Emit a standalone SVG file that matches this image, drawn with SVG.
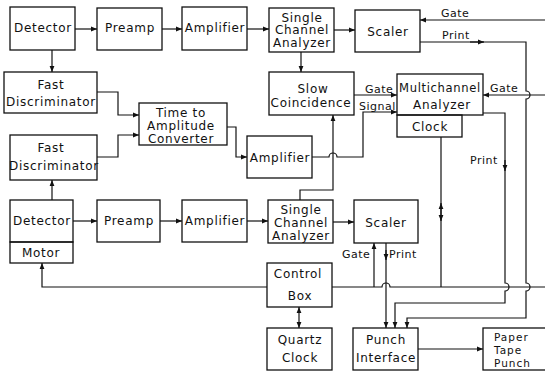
<svg xmlns="http://www.w3.org/2000/svg" width="545" height="371" viewBox="0 0 545 371">
<style>
.b{fill:none;stroke:#111;stroke-width:1.3}
.t{font-family:"DejaVu Sans",sans-serif;font-size:12px;text-anchor:middle;letter-spacing:0.7px;fill:#111}
.l{font-family:"DejaVu Sans",sans-serif;font-size:11px;letter-spacing:0.5px;fill:#111}
.p{font-family:"DejaVu Sans",sans-serif;font-size:10.5px;letter-spacing:1px;fill:#111}
.c{fill:none;stroke:#111;stroke-width:1.2}
</style>
<defs>
<marker id="a" viewBox="0 0 10 10" refX="10" refY="5" markerWidth="6" markerHeight="6" markerUnits="userSpaceOnUse" orient="auto-start-reverse">
<path d="M0,1 L10,5 L0,9 z" fill="#111"/>
</marker>
</defs>
<rect width="545" height="371" fill="#fff"/>

<g id="detector1"><rect class="b" x="10" y="7" width="65" height="43"/><text class="t" x="43" y="32">Detector</text></g>
<g id="preamp1"><rect class="b" x="97" y="8" width="65" height="42"/><text class="t" x="130" y="32">Preamp</text></g>
<g id="amplifier1"><rect class="b" x="182" y="7" width="65" height="43"/><text class="t" x="215" y="32">Amplifier</text></g>
<g id="sca1"><rect class="b" x="269" y="8" width="65" height="44"/><text class="t" x="302" y="21.5">Single</text><text class="t" x="302" y="34">Channel</text><text class="t" x="302" y="47">Analyzer</text></g>
<g id="scaler1"><rect class="b" x="355" y="10" width="65" height="42"/><text class="t" x="388" y="35.5">Scaler</text></g>
<g id="fastdisc1"><rect class="b" x="4" y="72" width="93" height="41"/><text class="t" x="51" y="89">Fast</text><text class="t" x="51" y="105.5">Discriminator</text></g>
<g id="tac"><rect class="b" x="139" y="103" width="88" height="42"/><text class="t" x="181" y="117">Time to</text><text class="t" x="181" y="130">Amplitude</text><text class="t" x="181" y="142.5">Converter</text></g>
<g id="slowcoinc"><rect class="b" x="269" y="72" width="85" height="43"/><text class="t" x="313" y="92.5">Slow</text><text class="t" x="311" y="107">Coincidence</text></g>
<g id="mca"><rect class="b" x="397" y="74" width="86" height="41"/><rect class="b" x="397" y="115" width="65" height="22"/><text class="t" x="440" y="92" textLength="82" lengthAdjust="spacingAndGlyphs">Multichannel</text><text class="t" x="442" y="109">Analyzer</text><text class="t" x="430" y="131">Clock</text></g>
<g id="fastdisc2"><rect class="b" x="10" y="135" width="87" height="45"/><text class="t" x="51" y="152">Fast</text><text class="t" x="54" y="169.5">Discriminator</text></g>
<g id="amplifier2"><rect class="b" x="247" y="136" width="65" height="42"/><text class="t" x="280" y="161.5">Amplifier</text></g>
<g id="detector2"><rect class="b" x="10" y="200" width="63" height="42"/><rect class="b" x="10" y="242" width="63" height="21"/><text class="t" x="42" y="224.5">Detector</text><text class="t" x="41" y="257">Motor</text></g>
<g id="preamp2"><rect class="b" x="97" y="200" width="63" height="42"/><text class="t" x="129" y="224.5">Preamp</text></g>
<g id="amplifier3"><rect class="b" x="182" y="200" width="65" height="42"/><text class="t" x="215" y="224.5">Amplifier</text></g>
<g id="sca2"><rect class="b" x="268" y="200" width="65" height="43"/><text class="t" x="301" y="213.5">Single</text><text class="t" x="301" y="227">Channel</text><text class="t" x="301" y="239.5">Analyzer</text></g>
<g id="scaler2"><rect class="b" x="354" y="200" width="64" height="43"/><text class="t" x="386" y="227">Scaler</text></g>
<g id="controlbox"><rect class="b" x="267" y="263" width="65" height="44"/><text class="t" x="298" y="277.5">Control</text><text class="t" x="300" y="299.5">Box</text></g>
<g id="quartzclock"><rect class="b" x="267" y="328" width="65" height="42"/><text class="t" x="300" y="343.5">Quartz</text><text class="t" x="300" y="361.5">Clock</text></g>
<g id="punchinterface"><rect class="b" x="353" y="328" width="65" height="42"/><text class="t" x="386" y="343.5">Punch</text><text class="t" x="386" y="361.5">Interface</text></g>
<g id="papertape"><rect class="b" x="483" y="328" width="80" height="42"/><text class="p" x="494" y="341">Paper</text><text class="p" x="494" y="354">Tape</text><text class="p" x="494" y="367">Punch</text></g>

<g id="connectors">
<path class="c" d="M75,29 H97" marker-end="url(#a)"/>
<path class="c" d="M162,29 H182" marker-end="url(#a)"/>
<path class="c" d="M247,29 H269" marker-end="url(#a)"/>
<path class="c" d="M334,30 H355" marker-end="url(#a)"/>
<path class="c" d="M73,221 H97" marker-end="url(#a)"/>
<path class="c" d="M160,221 H182" marker-end="url(#a)"/>
<path class="c" d="M247,221 H268" marker-end="url(#a)"/>
<path class="c" d="M333,222 H354" marker-end="url(#a)"/>
<path class="c" d="M52,50 V72" marker-end="url(#a)"/>
<path class="c" d="M301,52 V72" marker-end="url(#a)"/>
<path class="c" d="M97,92 H118 V115 H139" marker-end="url(#a)"/>
<path class="c" d="M97,157 H118 V135 H139" marker-end="url(#a)"/>
<path class="c" d="M52,200 V180" marker-end="url(#a)"/>
<path class="c" d="M227,127 H236 V157 H247" marker-end="url(#a)"/>
<path class="c" d="M312,157 H329 A4,4 0 0 1 337,157 H363 V112 H397" marker-end="url(#a)"/>
<path class="c" d="M300,200 V190 H333 V115" marker-end="url(#a)"/>
<path class="c" d="M354,95 H397" marker-end="url(#a)"/>
<path class="c" d="M545,20 H420" marker-end="url(#a)"/>
<path class="c" d="M420,42 H526 V91 A4,4 0 0 1 526,99 V283 A4,4 0 0 1 526,291 V318 H407 V328" marker-end="url(#a)"/>
<path class="c" d="M470,42 H484" marker-end="url(#a)"/>
<path class="c" d="M545,95 H483" marker-end="url(#a)"/>
<path class="c" d="M483,113 H505 V283 A4,4 0 0 1 505,291 V303 H395 V328" marker-end="url(#a)"/>
<path class="c" d="M505,160 V171" marker-end="url(#a)"/>
<path class="c" d="M441,137 V287"/>
<path class="c" d="M441,212 V203" marker-end="url(#a)"/>
<path class="c" d="M441,212 V221" marker-end="url(#a)"/>
<path class="c" d="M332,287 H382 A4,4 0 0 1 390,287 H545"/>
<path class="c" d="M267,287 H42 V263" marker-end="url(#a)"/>
<path class="c" d="M374,287 V243" marker-end="url(#a)"/>
<path class="c" d="M386,243 V328" marker-end="url(#a)"/>
<path class="c" d="M386,250 V260" marker-end="url(#a)"/>
<path class="c" d="M299,307 V328" marker-start="url(#a)" marker-end="url(#a)"/>
<path class="c" d="M418,349 H483" marker-end="url(#a)"/>
<text class="l" x="441" y="17">Gate</text>
<text class="l" x="442" y="39">Print</text>
<text class="l" x="365" y="93">Gate</text>
<text class="l" x="359" y="110">Signal</text>
<text class="l" x="490" y="92">Gate</text>
<text class="l" x="470" y="164">Print</text>
<text class="l" x="342" y="258">Gate</text>
<text class="l" x="389" y="258">Print</text>
</g>
</svg>
